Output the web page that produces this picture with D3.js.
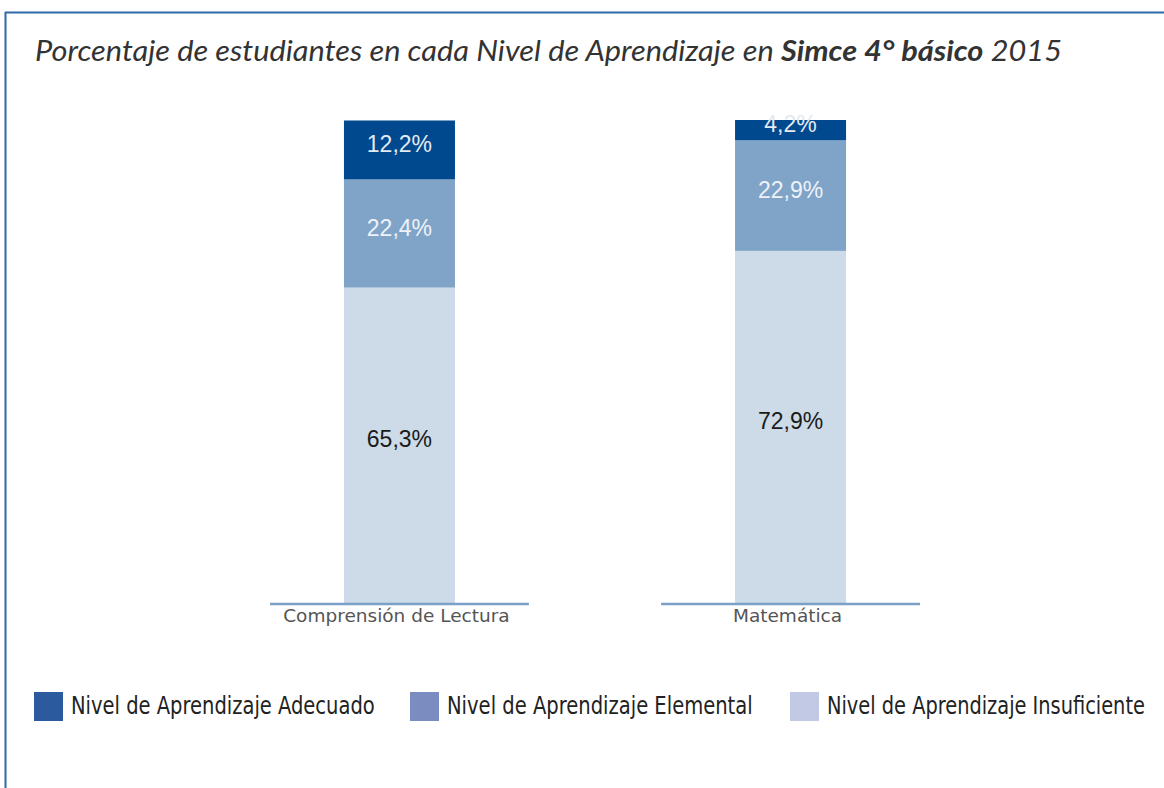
<!DOCTYPE html>
<html>
<head>
<meta charset="utf-8">
<script src="https://cdn.jsdelivr.net/npm/d3@7"></script>
<style>
  html, body { margin: 0; padding: 0; background: #fff; }
  svg { display: block; }
</style>
</head>
<body>
<svg id="chart" width="1164" height="788"></svg>
<script>
// values
const categories = ['Comprensión de Lectura', 'Matemática']
const insuficiente = [65.3, 72.9]
const elemental = [22.4, 22.9]
const adecuado = [12.2, 4.2]
const levelKeys = ['insuficiente', 'elemental', 'adecuado']
const legendLabels = [
  'Nivel de Aprendizaje Adecuado',
  'Nivel de Aprendizaje Elemental',
  'Nivel de Aprendizaje Insuficiente',
]

const barColors = { adecuado: '#00498e', elemental: '#80a4c8', insuficiente: '#cddae7' }
const legendColors = ['#2b5b9e', '#7b8cc0', '#c2c9e5']
const labelColors = { adecuado: '#e4eaf2', elemental: '#eef2f7', insuficiente: '#1a1a1a' }

// legend layout (x of swatch, width of label) - labels get squeezed to look condensed
const legendX = [34, 410, 790]
const legendTextWidth = [304, 306, 318]

const rows = categories.map((c, i) => ({
  category: c,
  insuficiente: insuficiente[i],
  elemental: elemental[i],
  adecuado: adecuado[i],
}))

const fmt = d3.formatLocale({ decimal: ',', thousands: '.', grouping: [3], currency: ['', ''] }).format('.1f')

const svg = d3.select('#chart')

// frame: top and left rule
svg.append('line')
  .attr('x1', 5).attr('x2', 1164).attr('y1', 12.5).attr('y2', 12.5)
  .attr('stroke', '#2f69a8').attr('stroke-width', 2)
svg.append('line')
  .attr('x1', 5.5).attr('x2', 5.5).attr('y1', 12).attr('y2', 788)
  .attr('stroke', '#2f69a8').attr('stroke-width', 2)

// title
const title = svg.append('text')
  .attr('x', 35).attr('y', 61)
  .attr('font-family', 'Lato, "Open Sans", sans-serif')
  .attr('font-style', 'italic')
  .attr('font-size', 29)
  .attr('fill', '#333')
  .attr('textLength', 1027)
  .attr('lengthAdjust', 'spacingAndGlyphs')
title.append('tspan').text('Porcentaje de estudiantes en cada Nivel de Aprendizaje en ')
title.append('tspan').attr('font-weight', 'bold').text('Simce 4° básico')
title.append('tspan').text(' 2015')

const xScale = d3.scaleBand()
  .domain(categories)
  .range([270, 920])
  .paddingInner(0.338)
  .paddingOuter(0)

const yScale = d3.scaleLinear()
  .domain([0, 100])
  .range([603, 120])

const barWidth = 111
const barX = d => xScale(d.data.category) + (xScale.bandwidth() - barWidth) / 2

const series = d3.stack().keys(levelKeys)(rows)

const layers = svg.append('g')
  .selectAll('g')
  .data(series)
  .join('g')
  .attr('fill', d => barColors[d.key])

layers.selectAll('rect')
  .data(d => d)
  .join('rect')
  .attr('x', barX)
  .attr('width', barWidth)
  .attr('y', d => yScale(d[1]))
  .attr('height', d => yScale(d[0]) - yScale(d[1]))

// value labels
layers.selectAll('text')
  .data(d => d.map(v => ({ v, key: d.key })))
  .join('text')
  .attr('x', d => barX(d.v) + barWidth / 2)
  .attr('y', d => (yScale(d.v[0]) + yScale(d.v[1])) / 2 + 2)
  .attr('text-anchor', 'middle')
  .attr('font-family', '"Liberation Sans", Arial, sans-serif')
  .attr('font-size', 23)
  .attr('fill', d => labelColors[d.key])
  .text(d => fmt(d.v[1] - d.v[0]) + '%')

// baseline rules under each category
const axis = svg.append('g')
axis.selectAll('line')
  .data(categories)
  .join('line')
  .attr('x1', d => xScale(d))
  .attr('x2', d => xScale(d) + xScale.bandwidth())
  .attr('y1', yScale(0) + 1)
  .attr('y2', yScale(0) + 1)
  .attr('stroke', '#7ba1c8')
  .attr('stroke-width', 2.5)

axis.selectAll('text')
  .data(categories)
  .join('text')
  .attr('x', d => xScale(d) + xScale.bandwidth() / 2 - 3)
  .attr('y', 622)
  .attr('text-anchor', 'middle')
  .attr('font-family', '"DejaVu Sans", sans-serif')
  .attr('font-size', 18.5)
  .attr('fill', '#555')
  .text(d => d)

// legend
const legend = svg.append('g')
  .selectAll('g')
  .data(legendLabels)
  .join('g')
  .attr('transform', (d, i) => `translate(${legendX[i]}, 692)`)

legend.append('rect')
  .attr('width', 29)
  .attr('height', 29)
  .attr('fill', (d, i) => legendColors[i])

legend.append('text')
  .attr('y', 22)
  .attr('font-family', '"DejaVu Sans Condensed", "Liberation Sans", sans-serif')
  .attr('font-size', 24)
  .attr('fill', '#222')
  .text(d => d)
  .attr('transform', function (d, i) {
    const k = legendTextWidth[i] / this.getComputedTextLength()
    return `translate(37, 0) scale(${k}, 1)`
  })
</script>
</body>
</html>
